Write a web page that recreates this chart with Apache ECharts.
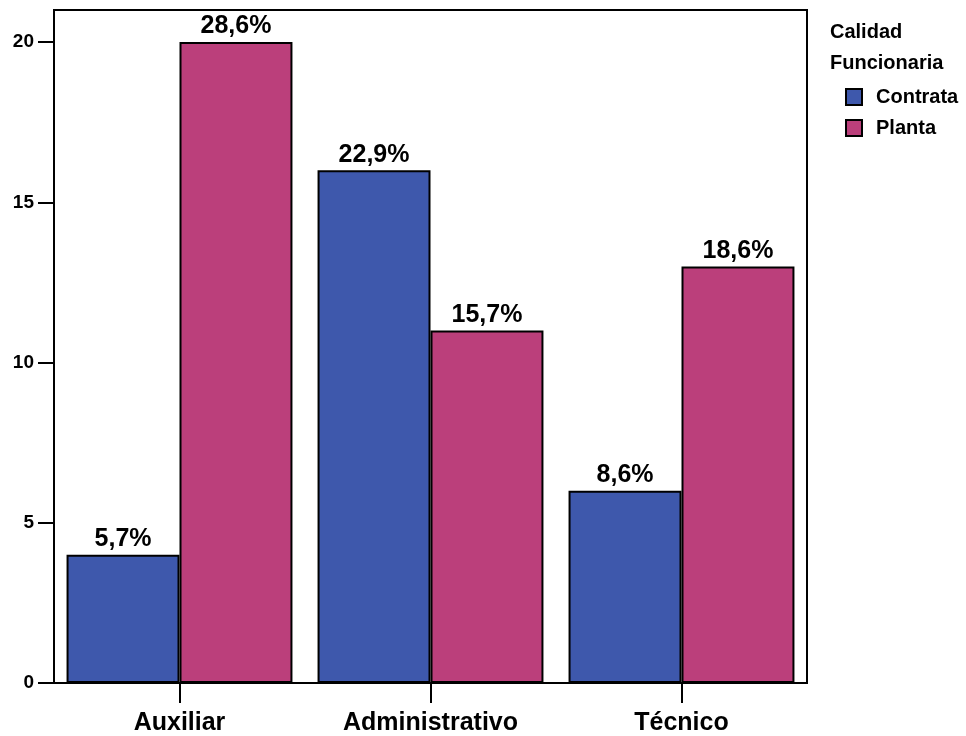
<!DOCTYPE html>
<html><head><meta charset="utf-8">
<script src="https://cdn.jsdelivr.net/npm/echarts@6/dist/echarts.min.js"></script>
<style>html,body{margin:0;padding:0;background:#fff}#c{width:966px;height:736px}</style>
</head><body><div id="c"></div>
<script>
const categories = ['Auxiliar', 'Administrativo', 'Técnico'];
const seriesNames = ['Contrata', 'Planta'];
const contrata = [4, 16, 6];
const planta = [20, 11, 13];
const contrataLabels = ['5,7%', '22,9%', '8,6%'];
const plantaLabels = ['28,6%', '15,7%', '18,6%'];
const yTicks = [0, 5, 10, 15, 20];

const FONT = '"Liberation Sans", Arial, sans-serif';
const chart = echarts.init(document.getElementById('c'));
function mkSeries(name, data, labels, color) {
  return {
    name: name, type: 'bar', data: data, barGap: '0%', barCategoryGap: '10%',
    itemStyle: {color: color, borderColor: '#000', borderWidth: 2},
    label: {show: true, position: 'top', distance: 3, fontFamily: FONT, fontWeight: 'bold', fontSize: 25, color: '#000',
      formatter: p => labels[p.dataIndex]},
    emphasis: {disabled: true}
  };
}
chart.setOption({
  animation: false,
  backgroundColor: '#fff',
  title: {text: 'Calidad\nFuncionaria', left: 825, top: 12,
    textStyle: {fontFamily: FONT, fontWeight: 'bold', fontSize: 20, color: '#000', lineHeight: 31}},
  legend: {orient: 'vertical', left: 840, top: 82, itemWidth: 16, itemHeight: 16, itemGap: 11, icon: 'rect',
    data: seriesNames,
    textStyle: {fontFamily: FONT, fontWeight: 'bold', fontSize: 20, color: '#000', padding: [0, 0, 0, 9]},
    itemStyle: {borderColor: '#000', borderWidth: 2}},
  grid: {left: 54, right: 159, top: 10, bottom: 53, show: true, borderColor: '#000', borderWidth: 2, backgroundColor: 'transparent'},
  xAxis: {type: 'category', data: categories,
    axisLine: {lineStyle: {color: '#000', width: 2}},
    axisTick: {show: true, alignWithLabel: true, length: 20, lineStyle: {color: '#000', width: 2}},
    axisLabel: {fontFamily: FONT, fontWeight: 'bold', fontSize: 25, color: '#000', margin: 28}},
  yAxis: {type: 'value', min: 0, max: 21, interval: 5,
    splitLine: {show: false},
    axisLine: {show: true, lineStyle: {color: '#000', width: 2}},
    axisTick: {show: true, length: 16, customValues: yTicks, lineStyle: {color: '#000', width: 2}},
    axisLabel: {fontFamily: FONT, fontWeight: 'bold', fontSize: 19, color: '#000', margin: 20, customValues: yTicks}},
  series: [
    mkSeries(seriesNames[0], contrata, contrataLabels, '#3E58AC'),
    mkSeries(seriesNames[1], planta, plantaLabels, '#BB3F7B')
  ]
});
</script></body></html>
